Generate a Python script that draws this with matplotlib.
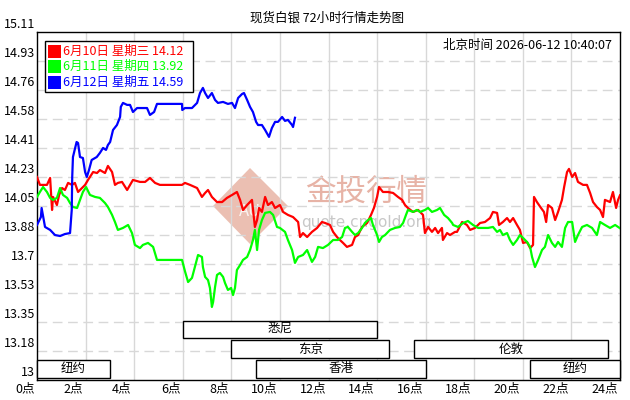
import matplotlib
matplotlib.use('Agg')
import matplotlib.pyplot as plt
import matplotlib.transforms as mtransforms
from matplotlib.patches import Rectangle, Polygon

plt.rcParams['font.family'] = ['Noto Sans CJK SC', 'DejaVu Sans']

# ── data ───────────────────────────────────────────────────────────────
red_hours = [0, 0.12, 0.41, 0.54, 0.62, 0.66, 0.82, 0.91, 1.03, 1.15, 1.28, 1.44, 1.56, 1.69,
             1.85, 1.98, 2.10, 2.31, 2.47, 2.59, 2.80, 2.92, 3.09, 3.21, 3.33, 3.50, 3.71, 3.83,
             3.95, 4.24, 4.45, 4.65, 4.86, 5.06, 5.97, 6.09, 6.30, 6.59, 6.79, 6.92, 7.04, 7.20,
             7.41, 7.62, 7.82, 8.03, 8.23, 8.36, 8.48, 8.65, 8.85, 8.97, 9.06, 9.14, 9.26, 9.39,
             9.51, 9.67, 9.80, 10.00, 10.13, 10.33, 10.54, 10.75, 10.83, 10.95, 11.12, 11.32,
             11.53, 11.73, 11.86, 12.06, 12.19, 12.35, 12.47, 12.60, 12.76, 12.97, 13.09, 13.22,
             13.38, 13.59, 13.75, 13.87, 14.00, 14.08, 14.24, 14.45, 14.66, 14.86, 15.03, 15.15,
             15.27, 15.48, 15.69, 15.89, 15.97, 16.10, 16.26, 16.39, 16.51, 16.67, 16.71, 16.88,
             17.00, 17.21, 17.29, 17.50, 17.70, 17.83, 18.03, 18.24, 18.44, 18.65, 18.77, 18.94,
             19.02, 19.18, 19.35, 19.47, 19.60, 19.76, 19.88, 20.01, 20.17, 20.30, 20.42, 20.46,
             20.58, 20.75, 20.87, 20.96, 21.04, 21.20, 21.33, 21.45, 21.61, 21.70, 21.82, 21.90,
             22.03, 22.15, 22.27, 22.48, 22.64, 22.77, 22.89, 23.05, 23.18, 23.30, 23.38, 23.59,
             23.71, 23.84, 23.92, 24.00]
red_price = [14.231, 14.183, 14.183, 14.225, 14.031, 14.110, 14.061, 14.122, 14.164, 14.152,
             14.195, 14.183, 14.195, 14.140, 14.164, 14.183, 14.213, 14.261, 14.255, 14.273,
             14.255, 14.298, 14.261, 14.183, 14.195, 14.201, 14.152, 14.183, 14.213, 14.201,
             14.201, 14.225, 14.195, 14.183, 14.183, 14.195, 14.183, 14.164, 14.110, 14.134,
             14.152, 14.110, 14.079, 14.079, 14.104, 14.122, 14.140, 14.092, 14.031, 14.061,
             14.092, 13.928, 13.970, 14.043, 14.019, 14.110, 14.061, 14.079, 14.043, 14.061,
             14.019, 14.001, 13.988, 13.958, 13.867, 13.891, 13.867, 13.898, 13.922, 13.958,
             13.952, 13.940, 13.898, 13.867, 13.849, 13.831, 13.807, 13.819, 13.867, 13.879,
             13.928, 13.952, 14.001, 14.043, 14.110, 14.170, 14.140, 14.140, 14.134, 14.110,
             14.092, 14.061, 14.043, 14.019, 14.031, 14.001, 13.891, 13.928, 13.898, 13.922,
             13.891, 13.922, 13.849, 13.891, 13.879, 13.898, 13.898, 13.958, 13.940, 13.910,
             13.922, 13.952, 13.958, 13.982, 14.019, 14.013, 13.940, 13.958, 13.982, 13.958,
             13.982, 13.940, 13.910, 13.831, 13.837, 13.800, 13.819, 14.110, 14.079, 14.043,
             14.019, 13.958, 14.061, 14.043, 13.970, 14.019, 14.092, 14.170, 14.261, 14.280,
             14.231, 14.255, 14.201, 14.183, 14.183, 14.134, 14.079, 14.049, 14.031, 13.988,
             14.092, 14.079, 14.140, 14.043, 14.092, 14.120]

green_hours = [0, 0.12, 0.25, 0.41, 0.54, 0.66, 0.82, 0.95, 1.07, 1.24, 1.36, 1.48, 1.65, 1.77,
               1.89, 2.02, 2.18, 2.39, 2.59, 2.80, 2.92, 3.09, 3.21, 3.33, 3.54, 3.75, 3.91,
               4.03, 4.24, 4.36, 4.57, 4.78, 4.94, 5.97, 6.09, 6.22, 6.38, 6.50, 6.63, 6.79,
               6.83, 6.92, 7.04, 7.12, 7.20, 7.25, 7.33, 7.41, 7.53, 7.66, 7.74, 7.86, 7.99,
               8.07, 8.15, 8.23, 8.36, 8.48, 8.65, 8.77, 8.89, 8.97, 9.06, 9.14, 9.26, 9.39,
               9.59, 9.72, 9.88, 10.00, 10.21, 10.33, 10.50, 10.62, 10.75, 10.95, 11.12, 11.32,
               11.45, 11.57, 11.77, 11.98, 12.19, 12.39, 12.56, 12.68, 12.80, 12.97, 13.09,
               13.22, 13.38, 13.50, 13.63, 13.75, 13.83, 14.00, 14.08, 14.20, 14.33, 14.53,
               14.74, 14.94, 15.07, 15.19, 15.27, 15.48, 15.64, 15.77, 15.97, 16.10, 16.26,
               16.47, 16.59, 16.76, 16.92, 17.09, 17.13, 17.33, 17.54, 17.74, 17.95, 18.16,
               18.36, 18.57, 18.77, 18.94, 19.06, 19.18, 19.35, 19.47, 19.60, 19.76, 19.88,
               20.01, 20.17, 20.30, 20.38, 20.50, 20.63, 20.79, 20.91, 21.04, 21.20, 21.33,
               21.45, 21.61, 21.74, 21.86, 22.03, 22.15, 22.27, 22.44, 22.64, 22.85, 23.05,
               23.18, 23.38, 23.59, 23.80, 24.00]
green_price = [14.110, 14.140, 14.170, 14.140, 14.104, 14.092, 14.104, 14.164, 14.122, 14.104,
               14.073, 14.049, 14.043, 14.092, 14.140, 14.170, 14.122, 14.110, 14.104, 14.073,
               14.049, 14.001, 13.958, 13.910, 13.922, 13.940, 13.891, 13.819, 13.800, 13.819,
               13.831, 13.807, 13.728, 13.728, 13.660, 13.594, 13.619, 13.685, 13.758, 13.746,
               13.685, 13.625, 13.606, 13.558, 13.443, 13.473, 13.564, 13.637, 13.649, 13.625,
               13.588, 13.546, 13.558, 13.515, 13.558, 13.667, 13.697, 13.728, 13.746, 13.788,
               13.849, 13.910, 13.788, 13.910, 13.970, 14.013, 14.019, 14.001, 13.928, 13.922,
               13.898, 13.849, 13.788, 13.710, 13.746, 13.758, 13.788, 13.716, 13.746, 13.807,
               13.800, 13.819, 13.849, 13.849, 13.867, 13.922, 13.928, 13.898, 13.879, 13.891,
               13.922, 13.952, 13.970, 13.982, 13.940, 13.879, 13.837, 13.867, 13.879, 13.910,
               13.922, 13.928, 13.952, 14.001, 14.031, 14.019, 14.031, 14.019, 14.031, 14.043,
               14.019, 14.031, 14.043, 14.001, 13.982, 13.952, 13.940, 13.928, 13.952, 13.964,
               13.940, 13.922, 13.922, 13.922, 13.928, 13.898, 13.910, 13.879, 13.891, 13.849,
               13.819, 13.849, 13.879, 13.861, 13.837, 13.807, 13.746, 13.685, 13.728, 13.788,
               13.807, 13.879, 13.831, 13.807, 13.837, 13.807, 13.922, 13.958, 13.958, 13.837,
               13.879, 13.928, 13.940, 13.922, 13.879, 13.958, 13.940, 13.922, 13.940, 13.920]

blue_hours = [0, 0.16, 0.19, 0.33, 0.54, 0.74, 0.95, 1.15, 1.36, 1.43, 1.45, 1.48, 1.63, 1.69,
              1.77, 1.89, 1.98, 2.05, 2.14, 2.25, 2.46, 2.59, 2.72, 2.84, 2.92, 3.01, 3.13,
              3.29, 3.42, 3.45, 3.54, 3.71, 3.83, 3.95, 4.12, 4.32, 4.53, 4.65, 4.82, 4.94,
              5.97, 5.98, 6.09, 6.38, 6.59, 6.71, 6.83, 6.92, 7.04, 7.20, 7.33, 7.45, 7.66,
              7.86, 8.03, 8.15, 8.28, 8.44, 8.52, 8.65, 8.77, 8.89, 9.02, 9.10, 9.26, 9.39,
              9.55, 9.67, 9.80, 9.92, 10.09, 10.21, 10.33, 10.50, 10.54, 10.62]
blue_price = [13.940, 13.988, 14.043, 13.928, 13.910, 13.879, 13.873, 13.885, 13.891, 14.031,
              14.231, 14.352, 14.443, 14.437, 14.352, 14.346, 14.261, 14.231, 14.273, 14.334,
              14.352, 14.377, 14.407, 14.395, 14.425, 14.443, 14.516, 14.546, 14.595, 14.656,
              14.680, 14.668, 14.668, 14.625, 14.649, 14.649, 14.649, 14.607, 14.625, 14.674,
              14.674, 14.637, 14.649, 14.649, 14.680, 14.740, 14.771, 14.740, 14.710, 14.740,
              14.698, 14.680, 14.686, 14.674, 14.680, 14.649, 14.710, 14.734, 14.740, 14.698,
              14.656, 14.625, 14.565, 14.546, 14.546, 14.516, 14.474, 14.528, 14.565, 14.565,
              14.595, 14.571, 14.577, 14.546, 14.534, 14.590]

legend_labels = ['6月10日 星期三 14.12', '6月11日 星期四 13.92', '6月12日 星期五 14.59']
series_colors = ['#ff0000', '#00ff00', '#0000ff']

y_ticks = [13.0, 13.176, 13.352, 13.528, 13.703, 13.879, 14.055, 14.231, 14.407, 14.583,
           14.758, 14.934, 15.11]
y_tick_labels = ['13', '13.18', '13.35', '13.53', '13.7', '13.88', '14.05', '14.23', '14.41',
                 '14.58', '14.76', '14.93', '15.11']
x_ticks = list(range(0, 25, 2))
x_tick_labels = [f'{h}点' for h in x_ticks]

session_names = ['纽约', '悉尼', '东京', '香港', '伦敦', '纽约']
session_start = [0, 6, 8, 9, 15.5, 20.3]
session_end = [3, 14, 14.5, 16, 23.5, 24]

title = '现货白银 72小时行情走势图'
stamp = '北京时间 2026-06-12 10:40:07'

# ── figure ─────────────────────────────────────────────────────────────
W, H = 630, 400


def fx(px):
    return px / W


def fy(py):
    return 1 - py / H


fig = plt.figure(figsize=(W / 100, H / 100), dpi=100)
ax = fig.add_axes([fx(37), 20 / H, 583 / W, 348 / H])
ax.set_xlim(0, 24)
ax.set_ylim(13.0, 15.11)

grid_c = '#d8d8d8'
for h in x_ticks[1:-1]:
    ax.axvline(h, color=grid_c, lw=1, zorder=0)
for v in y_ticks[1:-1]:
    ax.axhline(v, color=grid_c, lw=1, dashes=(7, 4), zorder=0)

# watermark (logo diamond + site name)
diamond = Polygon([(fx(213), fy(206)), (fx(250), fy(168)), (fx(288), fy(206)), (fx(250), fy(244))],
                  closed=True, transform=fig.transFigure, facecolor='#e3a592', alpha=0.7,
                  edgecolor='none', zorder=1)
fig.patches.append(diamond)
fig.text(fx(250), fy(212), 'AU', color='white', fontsize=12, ha='center', va='center',
         alpha=0.8, zorder=1)
fig.text(fx(366), fy(192), '金投行情', color='#e7b3a6', fontsize=22, ha='center',
         va='center', zorder=1)
fig.text(fx(366), fy(222), 'quote.cngold.org', color='#c8c8c8', fontsize=11,
         ha='center', va='center', zorder=1, family='DejaVu Sans')

ax.set_zorder(2)
ax.patch.set_alpha(0)
ax.plot(red_hours, red_price, color=series_colors[0], lw=1.6, zorder=3)
ax.plot(green_hours, green_price, color=series_colors[1], lw=1.6, zorder=3)
ax.plot(blue_hours, blue_price, color=series_colors[2], lw=1.6, zorder=3)

# market session boxes
row_of = [2, 0, 1, 2, 1, 2]
row_y = [(0.121, 0.170), (0.063, 0.115), (0.006, 0.058)]
for name, s, e, r in zip(session_names, session_start, session_end, row_of):
    y0, y1 = row_y[r]
    box = Rectangle((s, y0), e - s, y1 - y0, transform=ax.get_xaxis_transform(),
                    facecolor='white', edgecolor='black', lw=1, zorder=4, clip_on=False)
    ax.add_patch(box)
    ax.text((s + e) / 2, (y0 + y1) / 2, name, transform=ax.get_xaxis_transform(),
            ha='center', va='center', fontsize=9, zorder=5)

# axes, ticks
for sp in ax.spines.values():
    sp.set_color('black')
    sp.set_linewidth(1)
ax.set_yticks(y_ticks)
ax.set_yticklabels(y_tick_labels)
ax.set_xticks(x_ticks)
ax.set_xticklabels(x_tick_labels)
ax.tick_params(length=0, labelsize=9, pad=1.5)
# labels sit just above their gridline, x labels end just left of theirs
for lab in ax.get_yticklabels():
    lab.set_transform(lab.get_transform() + mtransforms.ScaledTranslation(0, 0.09, fig.dpi_scale_trans))
for lab in ax.get_xticklabels():
    lab.set_horizontalalignment('right')
    lab.set_transform(lab.get_transform() + mtransforms.ScaledTranslation(-0.025, 0, fig.dpi_scale_trans))

fig.text(fx(327), fy(18), title, ha='center', va='center', fontsize=9)
fig.text(fx(612), fy(46), stamp, ha='right', va='center', fontsize=9, zorder=6)

# legend drawn by hand to match the boxed layout
fig.patches.append(Rectangle((fx(45), fy(92)), 148 / W, 51 / H, transform=fig.transFigure,
                             facecolor='white', edgecolor='black', lw=1, zorder=6))
for i, (lab, c) in enumerate(zip(legend_labels, series_colors)):
    cy = 51 + i * 15.8
    fig.patches.append(Rectangle((fx(48), fy(cy + 6.5)), 13 / W, 13 / H,
                                 transform=fig.transFigure, facecolor=c, edgecolor='none',
                                 zorder=7))
    fig.text(fx(63), fy(cy), lab, color=c, ha='left', va='center', fontsize=9, zorder=7)

fig.savefig('out.png', dpi=100)
